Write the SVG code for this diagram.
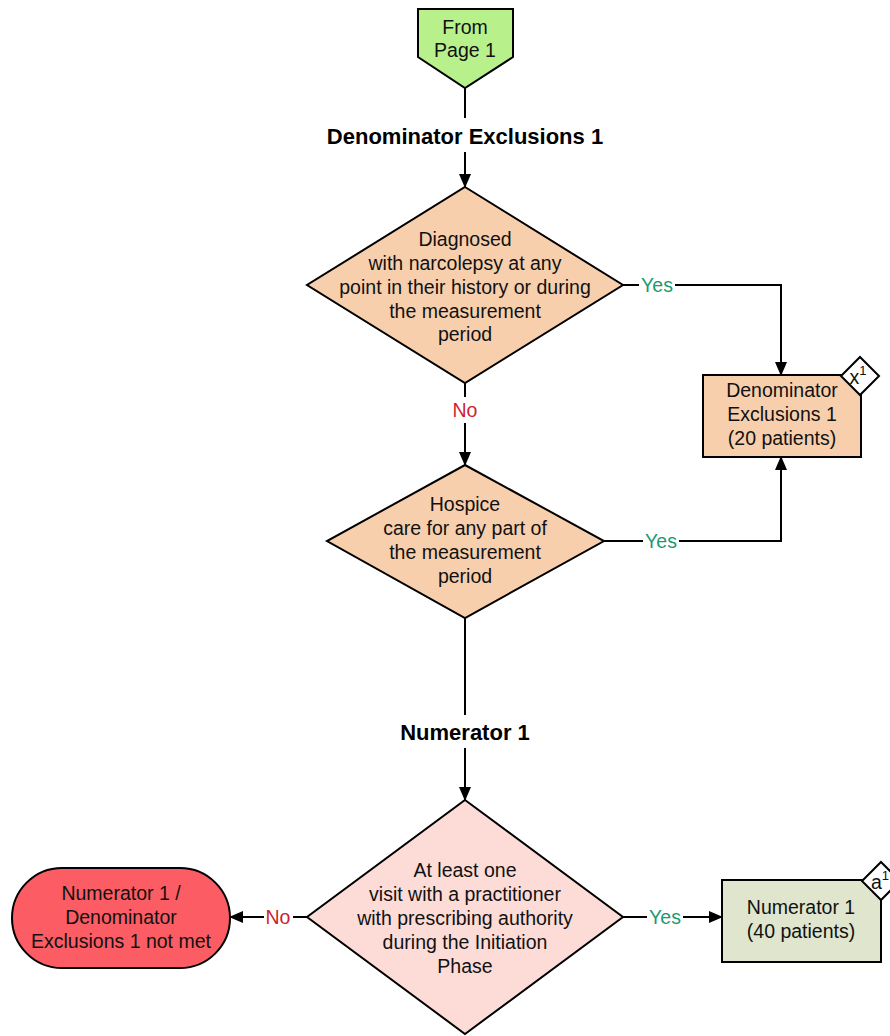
<svg xmlns="http://www.w3.org/2000/svg" width="890" height="1036" viewBox="0 0 890 1036">
<defs>
<marker id="ah" markerWidth="14" markerHeight="12" refX="13" refY="6" orient="auto" markerUnits="userSpaceOnUse"><path d="M0,0 L14,6 L0,12 z" fill="#000"/></marker>
<style>
.t{font-family:"Liberation Sans",Arial,sans-serif;font-size:19.5px;fill:#111;text-anchor:middle;dominant-baseline:central}
.h{font-family:"Liberation Sans",Arial,sans-serif;font-size:22px;font-weight:bold;fill:#000;text-anchor:middle;dominant-baseline:central}
.y{font-family:"Liberation Sans",Arial,sans-serif;font-size:19.5px;fill:#1a9a74;text-anchor:middle;dominant-baseline:central}
.n{font-family:"Liberation Sans",Arial,sans-serif;font-size:19.5px;fill:#cc1f2f;text-anchor:middle;dominant-baseline:central}
.s{stroke:#000;stroke-width:2}
.c{fill:none;stroke:#000;stroke-width:2}
</style>
</defs>
<rect width="890" height="1036" fill="#fff"/>
<g id="connectors">
<path class="c" d="M465,88 V118"/>
<path class="c" d="M465,152 V187" marker-end="url(#ah)"/>
<path class="c" d="M623,285 H639 M675,285 H781 V375" marker-end="url(#ah)"/>
<path class="c" d="M465,383 V397 M465,423 V465" marker-end="url(#ah)"/>
<path class="c" d="M604,541 H643 M679,541 H781 V457" marker-end="url(#ah)"/>
<path class="c" d="M465,618 V715"/>
<path class="c" d="M465,748 V800" marker-end="url(#ah)"/>
<path class="c" d="M307,917 H293 M264,917 H230" marker-end="url(#ah)"/>
<path class="c" d="M623,917 H647 M683,917 H722" marker-end="url(#ah)"/>
<text class="y" x="657" y="285">Yes</text>
<text class="n" x="465" y="410">No</text>
<text class="y" x="661" y="541">Yes</text>
<text class="n" x="278" y="917">No</text>
<text class="y" x="665" y="917">Yes</text>
</g>
<g id="from-page-1">
<path class="s" d="M418,9 H513 V57 L465,88 L418,57 Z" fill="#b8f08c"/>
<text class="t" x="465" y="27">From</text>
<text class="t" x="465" y="50">Page 1</text>
</g>
<g id="label-denominator-exclusions">
<text class="h" x="465" y="136">Denominator Exclusions 1</text>
</g>
<g id="diamond-narcolepsy">
<path class="s" d="M465,187 L623,285 L465,383 L307,285 Z" fill="#f8cfad"/>
<text class="t" x="465" y="239">Diagnosed</text>
<text class="t" x="465" y="263">with narcolepsy at any</text>
<text class="t" x="465" y="287">point in their history or during</text>
<text class="t" x="465" y="311">the measurement</text>
<text class="t" x="465" y="334">period</text>
</g>
<g id="box-denominator-exclusions">
<rect class="s" x="703" y="375" width="158" height="82" fill="#f8cfad"/>
<path class="s" d="M860,357 L879,376 L860,395 L841,376 Z" fill="#fff"/>
<text class="t" x="858" y="377">x<tspan font-size="13" dy="-7">1</tspan></text>
<text class="t" x="782" y="390">Denominator</text>
<text class="t" x="782" y="414">Exclusions 1</text>
<text class="t" x="782" y="438">(20 patients)</text>
</g>
<g id="diamond-hospice">
<path class="s" d="M465,465 L604,541 L465,618 L327,541 Z" fill="#f8cfad"/>
<text class="t" x="465" y="504">Hospice</text>
<text class="t" x="465" y="528">care for any part of</text>
<text class="t" x="465" y="552">the measurement</text>
<text class="t" x="465" y="576">period</text>
</g>
<g id="label-numerator">
<text class="h" x="465" y="732">Numerator 1</text>
</g>
<g id="diamond-visit">
<path class="s" d="M465,800 L623,917 L465,1034 L307,917 Z" fill="#fddcd7"/>
<text class="t" x="465" y="870">At least one</text>
<text class="t" x="465" y="894">visit with a practitioner</text>
<text class="t" x="465" y="918">with prescribing authority</text>
<text class="t" x="465" y="942">during the Initiation</text>
<text class="t" x="465" y="966">Phase</text>
</g>
<g id="terminal-not-met">
<rect class="s" x="12" y="868" width="218" height="100" rx="50" ry="50" fill="#fc5c63"/>
<text class="t" x="121" y="893">Numerator 1 /</text>
<text class="t" x="121" y="917">Denominator</text>
<text class="t" x="121" y="941">Exclusions 1 not met</text>
</g>
<g id="box-numerator">
<rect class="s" x="722" y="880" width="159" height="82" fill="#dfe6cd"/>
<path class="s" d="M881,862 L900,881 L881,900 L862,881 Z" fill="#fff"/>
<text class="t" x="880" y="882">a<tspan font-size="13" dy="-7">1</tspan></text>
<text class="t" x="801" y="907">Numerator 1</text>
<text class="t" x="801" y="931">(40 patients)</text>
</g>
</svg>
